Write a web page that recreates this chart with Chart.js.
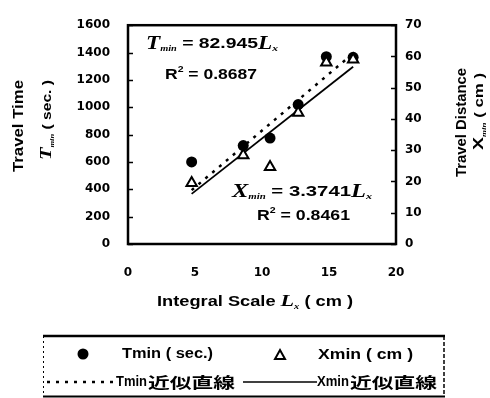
<!DOCTYPE html>
<html>
<head>
<meta charset="utf-8">
<script src="https://cdn.jsdelivr.net/npm/chart.js@4/dist/chart.umd.min.js"></script>
<style>
  html, body { margin: 0; padding: 0; background: #fff; }
  #wrap { width: 490px; height: 398px; }
</style>
</head>
<body>
<div id="wrap"><canvas id="c" width="490" height="398"></canvas></div>
<script>
// Measured points: integral scale Lx (cm) against travel time and travel distance
const integralScale  = [4.75, 8.6, 10.6, 12.7, 14.8, 16.8];
const travelTime     = [600, 720, 775, 1020, 1370, 1365];   // Tmin (sec.)
const travelDistance = [19.5, 28.4, 24.6, 42.0, 58.1, 59.0]; // Xmin (cm)

// Fitted lines through the origin
const timeSlope = 82.945, timeR2 = '0.8687';
const distSlope = 3.3741, distR2 = '0.8461';

// Axis ticks
const xTicks    = [0, 5, 10, 15, 20];
const timeTicks = [0, 200, 400, 600, 800, 1000, 1200, 1400, 1600];
const distTicks = [0, 10, 20, 30, 40, 50, 60, 70];

const lxMin = Math.min(...integralScale), lxMax = Math.max(...integralScale);
const timeFit = [lxMin, lxMax].map(x => ({ x, y: timeSlope * x }));
const distFit = [lxMin, lxMax].map(x => ({ x, y: distSlope * x }));
const pts = (ys) => integralScale.map((x, i) => ({ x, y: ys[i] }));

const SANS = '"Liberation Sans", Arial, sans-serif';
const SERIF = '"Liberation Serif", "Times New Roman", serif';
const CJK = '"Noto Sans CJK JP", sans-serif';
const tickFont = { family: '"DejaVu Sans"', size: 12, weight: 'bold' };

// Draw a row of text pieces, stretched horizontally so it spans x0..x1
function runs(ctx, parts, x0, x1, y) {
  ctx.textBaseline = 'middle';
  ctx.textAlign = 'left';
  let w = 0;
  parts.forEach(p => { ctx.font = p.f; w += ctx.measureText(p.t).width; });
  const sx = (x1 - x0) / w;
  let x = x0;
  parts.forEach(p => {
    ctx.font = p.f;
    const pw = ctx.measureText(p.t).width;
    ctx.save();
    ctx.translate(x, y + (p.dy || 0));
    ctx.scale(sx, 1);
    ctx.fillText(p.t, 0, 0);
    ctx.restore();
    x += pw * sx;
  });
}
// Same, written bottom-to-top along a vertical line at cx, spanning yBottom..yTop
function vruns(ctx, parts, cx, yBottom, yTop) {
  ctx.save();
  ctx.translate(cx, yBottom);
  ctx.rotate(-Math.PI / 2);
  runs(ctx, parts, 0, yBottom - yTop, 0);
  ctx.restore();
}

const decorations = {
  id: 'decorations',
  afterDraw(chart) {
    const ctx = chart.ctx;
    const a = chart.chartArea;
    const sy = chart.scales.y, sy2 = chart.scales.y2;
    ctx.save();
    ctx.fillStyle = '#000';
    ctx.strokeStyle = '#000';

    // plot frame
    ctx.lineWidth = 2.5;
    ctx.strokeRect(a.left, a.top, a.right - a.left, a.bottom - a.top);

    // inner tick marks
    ctx.lineWidth = 1.5;
    ctx.beginPath();
    sy.ticks.forEach(t => {
      const p = Math.round(sy.getPixelForValue(t.value)) + 0.5;
      ctx.moveTo(a.left, p); ctx.lineTo(a.left + 5, p);
    });
    sy2.ticks.forEach(t => {
      const p = Math.round(sy2.getPixelForValue(t.value)) + 0.5;
      ctx.moveTo(a.right, p); ctx.lineTo(a.right - 5, p);
    });
    ctx.stroke();

    // fit equations
    const big = 'italic bold 18px ' + SERIF, sub = 'italic bold 8px ' + SERIF;
    const num = 'bold 15px ' + SANS, sup = 'bold 9px ' + SANS;
    runs(ctx, [
      { t: 'T', f: big }, { t: 'min', f: sub, dy: 5 },
      { t: ' = ' + timeSlope, f: num },
      { t: 'L', f: big }, { t: 'x', f: 'italic bold 9px ' + SERIF, dy: 5 }
    ], 146, 278, 44);
    runs(ctx, [{ t: 'R', f: num }, { t: '2', f: sup, dy: -5 }, { t: ' = ' + timeR2, f: num }], 165, 257, 75);
    runs(ctx, [
      { t: 'X', f: big }, { t: 'min', f: sub, dy: 5 },
      { t: ' = ' + distSlope, f: num },
      { t: 'L', f: big }, { t: 'x', f: 'italic bold 9px ' + SERIF, dy: 5 }
    ], 232, 372, 192);
    runs(ctx, [{ t: 'R', f: num }, { t: '2', f: sup, dy: -5 }, { t: ' = ' + distR2, f: num }], 257, 350, 216);

    // axis titles
    const title = 'bold 15px ' + SANS;
    runs(ctx, [
      { t: 'Integral Scale ', f: 'bold 14px ' + SANS },
      { t: 'L', f: 'italic bold 17px ' + SERIF }, { t: 'x', f: 'italic bold 8px ' + SERIF, dy: 5 },
      { t: ' ( cm )', f: 'bold 14px ' + SANS }
    ], 157, 353, 302);
    vruns(ctx, [{ t: 'Travel Time', f: title }], 19, 172, 80);
    vruns(ctx, [
      { t: 'T', f: 'italic bold 17px ' + SERIF }, { t: 'min', f: 'italic bold 7px ' + SERIF, dy: 5 },
      { t: ' ( sec. )', f: 'bold 13px ' + SANS }
    ], 47, 160, 80);
    vruns(ctx, [{ t: 'Travel Distance', f: title }], 462, 177, 68);
    vruns(ctx, [
      { t: 'X', f: 'bold 15px ' + SANS }, { t: 'min', f: 'italic bold 7px ' + SERIF, dy: 5 },
      { t: ' ( cm )', f: 'bold 13px ' + SANS }
    ], 479, 150, 73);

    // legend box
    ctx.lineWidth = 2.5;
    ctx.beginPath(); ctx.moveTo(43, 336); ctx.lineTo(445, 336); ctx.stroke();
    ctx.lineWidth = 2;
    ctx.beginPath(); ctx.moveTo(43, 396.5); ctx.lineTo(445, 396.5); ctx.stroke();
    ctx.lineWidth = 1;
    ctx.setLineDash([2, 3]);
    ctx.beginPath(); ctx.moveTo(43.5, 336); ctx.lineTo(43.5, 397); ctx.stroke();
    ctx.lineWidth = 1.5;
    ctx.setLineDash([4, 2]);
    ctx.beginPath(); ctx.moveTo(444, 336); ctx.lineTo(444, 397); ctx.stroke();
    ctx.setLineDash([]);

    // legend markers
    ctx.beginPath(); ctx.arc(83, 354, 5.5, 0, Math.PI * 2); ctx.fill();
    ctx.lineWidth = 2;
    ctx.beginPath(); ctx.moveTo(280, 350); ctx.lineTo(285, 359); ctx.lineTo(275, 359); ctx.closePath(); ctx.stroke();
    ctx.lineWidth = 2.5;
    ctx.setLineDash([3, 6]);
    ctx.beginPath(); ctx.moveTo(47, 382); ctx.lineTo(115, 382); ctx.stroke();
    ctx.setLineDash([]);
    ctx.lineWidth = 1.5;
    ctx.beginPath(); ctx.moveTo(243, 382); ctx.lineTo(317, 382); ctx.stroke();

    // legend texts
    const lf = 'bold 14px ' + SANS, jf = 'bold 15px ' + CJK;
    runs(ctx, [{ t: 'Tmin ( sec.)', f: lf }], 122, 213, 354);
    runs(ctx, [{ t: 'Xmin ( cm )', f: lf }], 318, 413, 355);
    runs(ctx, [{ t: 'Tmin', f: lf }], 116, 147, 382);
    runs(ctx, [{ t: '近似直線', f: jf }], 148, 235, 382);
    runs(ctx, [{ t: 'Xmin', f: lf }], 317, 349, 382);
    runs(ctx, [{ t: '近似直線', f: jf }], 350, 437, 382);

    ctx.restore();
  }
};

const axisCommon = (ticks, pad) => ({
  type: 'linear',
  min: ticks[0],
  max: ticks[ticks.length - 1],
  ticks: {
    stepSize: ticks[1] - ticks[0], color: '#000', font: tickFont, padding: pad,
    callback: v => String(v)
  },
  grid: { display: false, drawTicks: false },
  border: { display: false }
});

new Chart(document.getElementById('c'), {
  type: 'scatter',
  data: {
    datasets: [
      {
        label: 'Xmin ( cm )', data: pts(travelDistance), yAxisID: 'y2',
        pointStyle: 'triangle', pointRadius: 6, pointHoverRadius: 6,
        backgroundColor: '#fff', borderColor: '#000', pointBorderWidth: 2, order: 1
      },
      {
        label: 'Tmin ( sec.)', data: pts(travelTime), yAxisID: 'y',
        pointStyle: 'circle', pointRadius: 5.5, pointHoverRadius: 5.5,
        backgroundColor: '#000', borderColor: '#000', pointBorderWidth: 0, order: 2
      },
      {
        type: 'line', label: 'Tmin近似直線', data: timeFit, yAxisID: 'y',
        borderColor: '#000', borderWidth: 2.5, borderDash: [3, 6], pointRadius: 0, fill: false, order: 3
      },
      {
        type: 'line', label: 'Xmin近似直線', data: distFit, yAxisID: 'y2',
        borderColor: '#000', borderWidth: 1.8, pointRadius: 0, fill: false, order: 4
      }
    ]
  },
  options: {
    responsive: false,
    animation: false,
    devicePixelRatio: 1,
    layout: { padding: { top: 14, left: 0, right: 0, bottom: 0 } },
    plugins: { legend: { display: false }, tooltip: { enabled: false } },
    scales: {
      x: Object.assign(axisCommon(xTicks, 22), { afterFit(s) { s.height = 154; } }),
      y: Object.assign(axisCommon(timeTicks, 18), { position: 'left', afterFit(s) { s.width = 128; } }),
      y2: Object.assign(axisCommon(distTicks, 9), { position: 'right', afterFit(s) { s.width = 94; } })
    }
  },
  plugins: [decorations]
});
</script>
</body>
</html>
